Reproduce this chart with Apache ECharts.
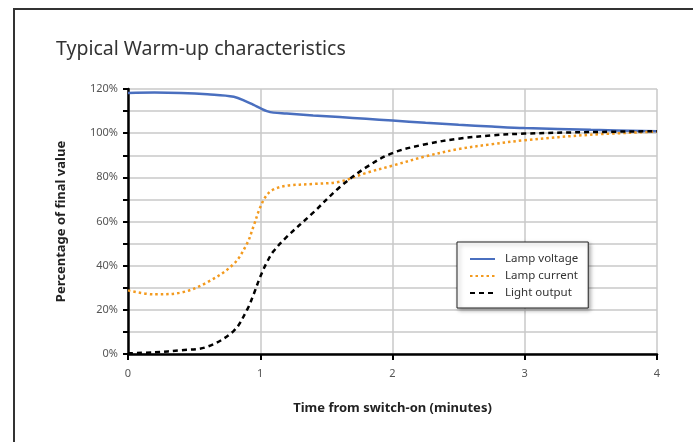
<!DOCTYPE html>
<html>
<head>
<meta charset="utf-8">
<script src="https://cdn.jsdelivr.net/npm/echarts@6/dist/echarts.min.js"></script>
<style>
  html, body { margin: 0; padding: 0; background: #fff; }
  #chart { width: 693px; height: 442px; }
</style>
</head>
<body>
<div id="chart"></div>
<script>
  // minutes after switch-on
  var times = [0, 0.2, 0.4, 0.6, 0.8, 0.9, 0.95, 1.0, 1.05, 1.1, 1.2, 1.4, 1.6, 1.8, 2.0, 2.25, 2.5, 2.75, 3.0, 3.5, 4.0];
  // percent of final value
  var lampVoltage = [118.2, 118.4, 118.2, 117.6, 116.5, 114.2, 112.8, 111.3, 110.0, 109.3, 108.9, 108.0, 107.3, 106.5, 105.7, 104.7, 103.8, 103.0, 102.3, 101.5, 100.9];
  var lampCurrent = [28.8, 27.0, 27.8, 32.5, 40.8, 50, 58, 66.5, 72, 74.5, 76.2, 77, 78, 82, 85.3, 89.5, 92.8, 95, 96.8, 99.3, 100.7];
  var lightOutput = [0.3, 0.8, 1.7, 3.3, 10.5, 20, 27, 35, 41.5, 46.5, 53, 64, 75.5, 84.5, 91, 95, 97.5, 99, 99.8, 100.5, 100.9];
  var xTicks = ['0', '1', '2', '3', '4'];

  function pairs(vals) {
    return times.map(function (t, i) { return [t, vals[i]]; });
  }

  var chart = echarts.init(document.getElementById('chart'));
  var font = 'Noto Sans';

  var option = {
    animation: false,
    title: {
      text: 'Typical Warm-up characteristics',
      left: 51,
      top: 34,
      textStyle: { fontFamily: font, fontSize: 19.5, fontWeight: 'normal', color: '#333' }
    },
    grid: { left: 128, right: 36, top: 89, bottom: 88 },
    legend: {
      orient: 'vertical',
      left: 457,
      top: 242,
      padding: [11, 10, 9, 12],
      itemGap: 5,
      itemWidth: 25,
      itemHeight: 12,
      backgroundColor: '#fff',
      borderColor: '#222',
      borderWidth: 1,
      borderRadius: 0,
      shadowBlur: 4,
      shadowColor: 'rgba(0,0,0,0.35)',
      shadowOffsetX: 2,
      shadowOffsetY: 2,
      itemStyle: { opacity: 0 },
      textStyle: { fontFamily: font, fontSize: 11.5, color: '#333', padding: [0, 0, 0, 5] },
      data: ['Lamp voltage', 'Lamp current', 'Light output']
    },
    xAxis: {
      type: 'value',
      min: 0,
      max: 4,
      interval: 1,
      name: 'Time from switch-on (minutes)',
      nameLocation: 'middle',
      nameGap: 48,
      nameTextStyle: { fontFamily: font, fontSize: 13, fontWeight: 'bold', color: '#222' },
      axisLine: { onZero: false, lineStyle: { color: '#000', width: 2.5 } },
      axisTick: { show: true, length: 6, lineStyle: { color: '#000', width: 2 } },
      axisLabel: {
        fontFamily: font, fontSize: 11, color: '#555', margin: 14,
        formatter: function (v) { return xTicks[Math.round(v)]; }
      },
      splitLine: { show: true, lineStyle: { color: '#c8c8c8', width: 1.5 } }
    },
    yAxis: {
      type: 'value',
      min: 0,
      max: 120,
      interval: 10,
      name: 'Percentage of final value',
      nameLocation: 'middle',
      nameRotate: 90,
      nameGap: 60,
      nameTextStyle: { fontFamily: font, fontSize: 13, fontWeight: 'bold', color: '#222' },
      axisLine: { show: true, lineStyle: { color: '#000', width: 2.5 } },
      axisTick: { show: true, length: 5, lineStyle: { color: '#000', width: 2 } },
      axisLabel: {
        fontFamily: font, fontSize: 11, color: '#555', margin: 10,
        formatter: function (v) { return v % 20 === 0 ? v + '%' : ''; }
      },
      splitLine: { show: true, lineStyle: { color: '#c8c8c8', width: 1.5 } }
    },
    series: [
      {
        name: 'Lamp voltage',
        type: 'line',
        data: pairs(lampVoltage),
        smooth: 0.35,
        showSymbol: false,
        symbol: 'none',
        color: '#4a6fbf',
        lineStyle: { color: '#4a6fbf', width: 2.5 }
      },
      {
        name: 'Lamp current',
        type: 'line',
        data: pairs(lampCurrent),
        smooth: 0.35,
        showSymbol: false,
        symbol: 'none',
        color: '#f39a1e',
        lineStyle: { color: '#f39a1e', width: 2.5, type: [2.5, 3] }
      },
      {
        name: 'Light output',
        type: 'line',
        data: pairs(lightOutput),
        smooth: 0.35,
        showSymbol: false,
        symbol: 'none',
        color: '#000',
        lineStyle: { color: '#000', width: 2.5, type: [5, 4] }
      }
    ],
    graphic: [
      {
        type: 'polyline',
        shape: { points: [[14, 442], [14, 9], [693, 9]] },
        style: { stroke: '#333', lineWidth: 2, fill: null }
      }
    ]
  };

  chart.setOption(option);
</script>
</body>
</html>
